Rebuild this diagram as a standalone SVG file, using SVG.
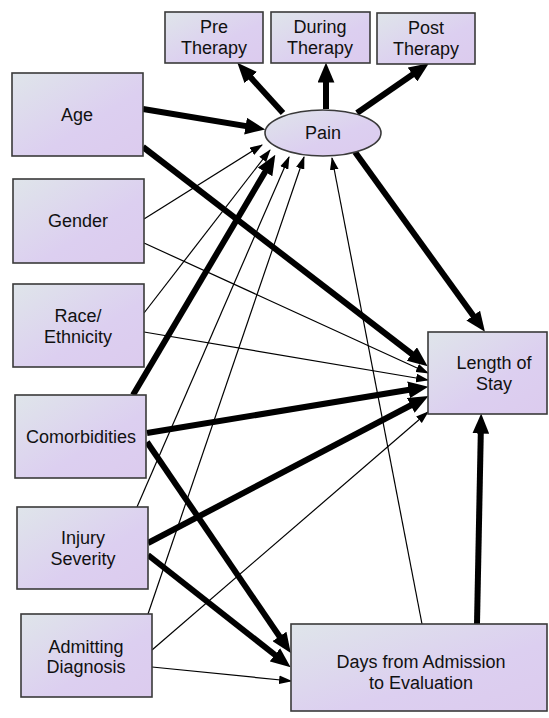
<svg xmlns="http://www.w3.org/2000/svg" width="549" height="718" viewBox="0 0 549 718">
<defs>
<linearGradient id="g" x1="0" y1="0" x2="1" y2="1">
<stop offset="0" stop-color="#dfe5ea"/>
<stop offset="0.6" stop-color="#dccff0"/>
<stop offset="1" stop-color="#dccbee"/>
</linearGradient>
<marker id="ta" markerUnits="userSpaceOnUse" markerWidth="20" markerHeight="17" refX="11" refY="8" orient="auto" viewBox="0 0 19 16">
<path d="M0,0 L19,8 L0,16 z" fill="#000"/>
</marker>
<marker id="na" markerUnits="userSpaceOnUse" markerWidth="13" markerHeight="9" refX="11" refY="4" orient="auto" viewBox="0 0 12 8">
<path d="M0,0 L12,4 L0,8 z" fill="#000"/>
</marker>
</defs>
<style>
.box{fill:url(#g);stroke:#3a3a3a;stroke-width:1.6}
.t{font-family:"Liberation Sans",Arial,sans-serif;font-size:18px;fill:#111;text-anchor:middle}
.thick{stroke:#000;stroke-width:6;fill:none;marker-end:url(#ta)}
.thin{stroke:#000;stroke-width:1.2;fill:none;marker-end:url(#na)}
</style>
<g id="connectors">
<line class="thick" x1="283" y1="113" x2="243" y2="69"/>
<line class="thick" x1="326" y1="109" x2="326" y2="71"/>
<line class="thick" x1="357" y1="113" x2="422" y2="68"/>
<line class="thick" x1="143" y1="109" x2="257" y2="128"/>
<line class="thick" x1="143" y1="147" x2="421" y2="361"/>
<line class="thick" x1="133" y1="395" x2="271" y2="162"/>
<line class="thick" x1="147" y1="433" x2="420" y2="388"/>
<line class="thick" x1="147" y1="442" x2="286" y2="646"/>
<line class="thick" x1="148" y1="543" x2="421" y2="400"/>
<line class="thick" x1="148" y1="555" x2="284" y2="662"/>
<line class="thick" x1="355" y1="152" x2="480" y2="325"/>
<line class="thick" x1="477" y1="624" x2="481" y2="422"/>
<line class="thin" x1="144" y1="219" x2="262" y2="145"/>
<line class="thin" x1="144" y1="243" x2="428" y2="373"/>
<line class="thin" x1="144" y1="313" x2="270" y2="150"/>
<line class="thin" x1="144" y1="332" x2="428" y2="380"/>
<line class="thin" x1="137" y1="507" x2="289" y2="157"/>
<line class="thin" x1="148" y1="614" x2="304" y2="157"/>
<line class="thin" x1="152" y1="650" x2="428" y2="412"/>
<line class="thin" x1="152" y1="667" x2="291" y2="681"/>
<line class="thin" x1="422" y1="624" x2="332" y2="158"/>
</g>
<g id="pre"><rect class="box" x="165" y="12" width="98" height="51"/><text class="t" x="214" y="33">Pre</text><text class="t" x="214" y="54">Therapy</text></g>
<g id="during"><rect class="box" x="271" y="12" width="99" height="51"/><text class="t" x="320" y="33">During</text><text class="t" x="320" y="54">Therapy</text></g>
<g id="post"><rect class="box" x="377" y="13" width="98" height="51"/><text class="t" x="426" y="34">Post</text><text class="t" x="426" y="55">Therapy</text></g>
<g id="pain"><ellipse class="box" cx="323" cy="133" rx="58" ry="23"/><text class="t" x="323" y="139">Pain</text></g>
<g id="age"><rect class="box" x="12" y="73" width="131" height="83"/><text class="t" x="77" y="121">Age</text></g>
<g id="gender"><rect class="box" x="13" y="179" width="131" height="84"/><text class="t" x="78" y="227">Gender</text></g>
<g id="race"><rect class="box" x="13" y="284" width="131" height="83"/><text class="t" x="78" y="322">Race/</text><text class="t" x="78" y="343">Ethnicity</text></g>
<g id="comorbidities"><rect class="box" x="15" y="395" width="131" height="83"/><text class="t" x="81" y="443">Comorbidities</text></g>
<g id="injury"><rect class="box" x="17" y="507" width="131" height="82"/><text class="t" x="83" y="544">Injury</text><text class="t" x="83" y="565">Severity</text></g>
<g id="admitting"><rect class="box" x="21" y="614" width="131" height="83"/><text class="t" x="86" y="653">Admitting</text><text class="t" x="86" y="673">Diagnosis</text></g>
<g id="los"><rect class="box" x="428" y="332" width="119" height="82"/><text class="t" x="494" y="369">Length of</text><text class="t" x="494" y="390">Stay</text></g>
<g id="days"><rect class="box" x="291" y="624" width="256" height="87"/><text class="t" x="421" y="668">Days from Admission</text><text class="t" x="421" y="689">to Evaluation</text></g>
</svg>
